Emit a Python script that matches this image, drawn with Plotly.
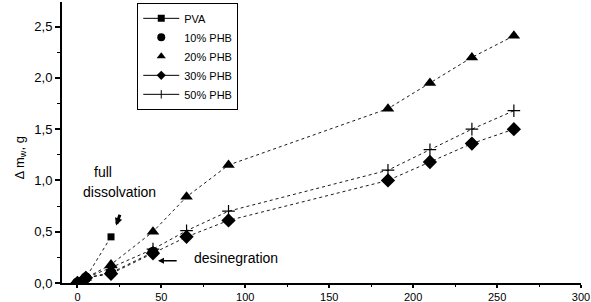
import plotly.graph_objects as go

# Data (time, mass change)
x_pva = [0, 5, 20]
y_pva = [0, 0.05, 0.45]
x_10 = [0, 5, 20, 45]
y_10 = [0, 0.05, 0.10, 0.30]
x_all = [0, 5, 20, 45, 65, 90, 185, 210, 235, 260]
y_20 = [0, 0.05, 0.18, 0.50, 0.84, 1.15, 1.70, 1.95, 2.20, 2.41]
y_30 = [0, 0.05, 0.09, 0.29, 0.45, 0.61, 1.00, 1.18, 1.36, 1.50]
y_50 = [0, 0.05, 0.15, 0.33, 0.51, 0.70, 1.10, 1.30, 1.50, 1.68]

FONT = "Liberation Sans, Arial, sans-serif"
fig = go.Figure()

def dotted(x, y):
    fig.add_trace(go.Scatter(x=x, y=y, mode="lines", showlegend=False,
                             line=dict(color="black", width=0.9, dash="dot"),
                             hoverinfo="skip"))

for xs, ys in [(x_pva, y_pva), (x_10, y_10), (x_all, y_20), (x_all, y_30), (x_all, y_50)]:
    dotted(xs, ys)

series = [
    ("PVA", x_pva, y_pva, dict(symbol="square", size=7, color="black"), True),
    ("10% PHB", x_10, y_10, dict(symbol="circle", size=11, color="black"), False),
    ("20% PHB", x_all, y_20, dict(symbol="triangle-up", size=11, color="black"), False),
    ("30% PHB", x_all, y_30, dict(symbol="diamond", size=11, color="black"), True),
    ("50% PHB", x_all, y_50, dict(symbol="cross-thin-open", size=9, color="black",
                                  line=dict(color="black", width=1.2)), True),
]
for name, xs, ys, mk, legline in series:
    fig.add_trace(go.Scatter(x=xs, y=ys, mode="markers", name=name, showlegend=False,
                             marker=mk))
    if name == "50% PHB":
        lmk = dict(symbol="line-ns-open", size=6, color="black", line=dict(color="black", width=1))
    elif name in ("PVA", "30% PHB"):
        lmk = dict(mk, size=7)
    else:
        lmk = dict(mk, size=8)
    fig.add_trace(go.Scatter(x=[None], y=[None], name=name,
                             mode="lines+markers" if legline else "markers",
                             marker=lmk, line=dict(color="black", width=1)))

anns = [
    dict(x=15.2, y=1.08, text="full", showarrow=False),
    dict(x=25.3, y=0.887, text="dissolvation", showarrow=False),
    dict(x=94.3, y=0.244, text="desinegration", showarrow=False),
    dict(x=23.0, y=0.56, ax=25.6, ay=0.68, axref="x", ayref="y", text="",
         showarrow=True, arrowhead=2, arrowsize=0.5, arrowwidth=3, arrowcolor="black"),
    dict(x=48, y=0.217, ax=60, ay=0.217, axref="x", ayref="y", text="",
         showarrow=True, arrowhead=2, arrowsize=0.8, arrowwidth=1.5, arrowcolor="black"),
    dict(xref="paper", yref="paper", x=-0.10, y=0.445, text="Δ m<sub>w</sub>, g",
         textangle=-90, showarrow=False, font=dict(family=FONT, size=13, color="black")),
]
for a in anns:
    a.setdefault("font", dict(family=FONT, size=14, color="black"))

fig.update_layout(
    width=591, height=302,
    margin=dict(l=62, r=10, t=2, b=19),
    paper_bgcolor="white", plot_bgcolor="white",
    separators=",.",
    font=dict(family=FONT, size=13, color="black"),
    annotations=anns,
    showlegend=True,
    legend=dict(x=0.145, y=0.997, xanchor="left", yanchor="top",
                bgcolor="white", bordercolor="black", borderwidth=1,
                font=dict(family=FONT, size=11, color="black"),
                tracegroupgap=0, itemwidth=36),
    xaxis=dict(range=[-9.2, 300], showgrid=False, zeroline=False, automargin=False,
               showline=True, linecolor="black", linewidth=2, ticklabeloverflow="allow",
               ticks="outside", ticklen=3, tickwidth=2, tickcolor="black",
               tickfont=dict(family=FONT, size=11, color="black"),
               tickvals=[0, 50, 100, 150, 200, 250, 300],
               minor=dict(tickvals=[25, 75, 125, 175, 225, 275], ticks="outside",
                          ticklen=2, tickwidth=1, tickcolor="black")),
    yaxis=dict(range=[0, 2.74], showgrid=False, zeroline=False, automargin=False,
               showline=True, linecolor="black", linewidth=2,
               ticks="outside", ticklen=5, tickwidth=2, tickcolor="black",
               tickvals=[0, 0.5, 1.0, 1.5, 2.0, 2.5], tickformat=".1f",
               minor=dict(tickvals=[0.25, 0.75, 1.25, 1.75, 2.25], ticks="outside",
                          ticklen=3, tickwidth=1, tickcolor="black")),
)

fig.write_html("out.html", config={"displayModeBar": False},
               post_script="document.body.style.margin='0';document.body.style.padding='0';")
